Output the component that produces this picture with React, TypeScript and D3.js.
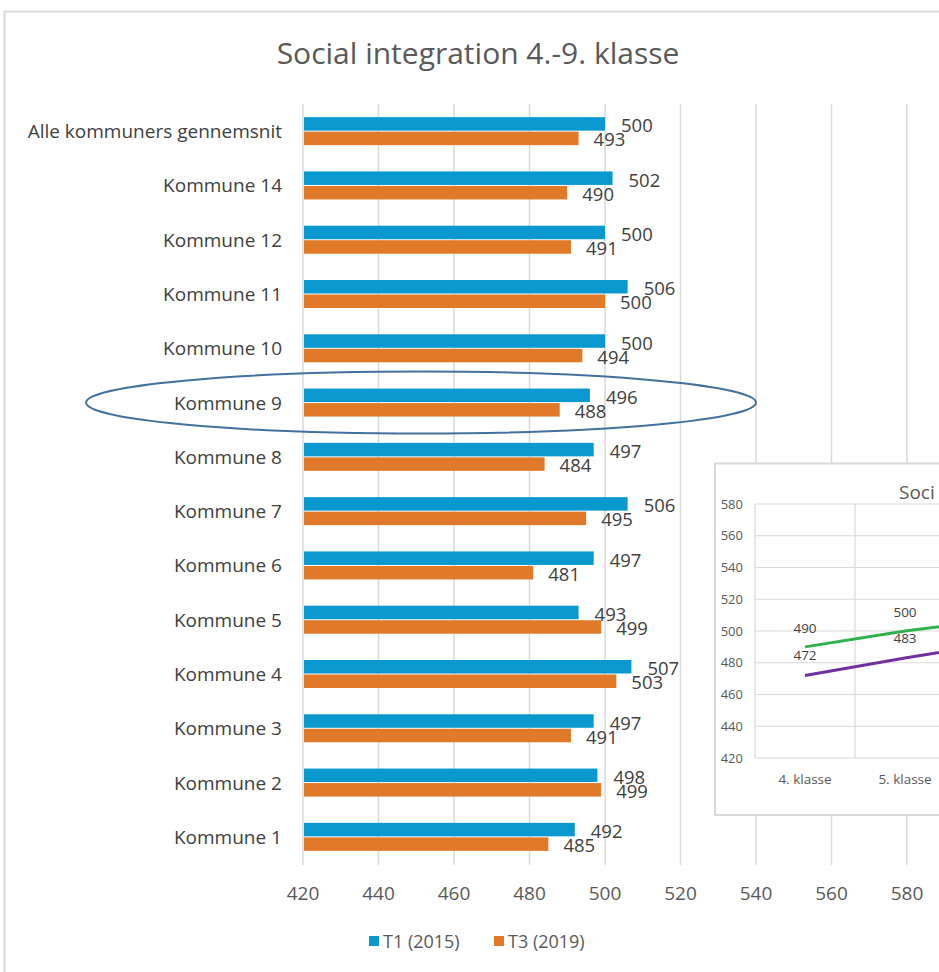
import React from "react";
import * as d3 from "d3";

const categories = [
  "Alle kommuners gennemsnit",
  "Kommune 14",
  "Kommune 12",
  "Kommune 11",
  "Kommune 10",
  "Kommune 9",
  "Kommune 8",
  "Kommune 7",
  "Kommune 6",
  "Kommune 5",
  "Kommune 4",
  "Kommune 3",
  "Kommune 2",
  "Kommune 1",
];
const t1Values = [500, 502, 500, 506, 500, 496, 497, 506, 497, 493, 507, 497, 498, 492];
const t3Values = [493, 490, 491, 500, 494, 488, 484, 495, 481, 499, 503, 491, 499, 485];
const xTicks = [420, 440, 460, 480, 500, 520, 540, 560, 580];
const seriesNames = ["T1 (2015)", "T3 (2019)"];
const highlighted = "Kommune 9";

// inset line chart (cropped at the right edge in the reference)
const insetCategories = ["4. klasse", "5. klasse", "6. klasse"];
const insetGreen = [490, 500, 508];
const insetPurple = [472, 483, 493];
const insetGreenLabels = ["490", "500", ""];
const insetPurpleLabels = ["472", "483", ""];
const insetTicks = [420, 440, 460, 480, 500, 520, 540, 560, 580];

const BLUE = "#0a99cf";
const ORANGE = "#e07a29";
const GRID = "#d9d9d9";
const FONT = "'Open Sans', sans-serif";

export default function App() {
  const x = d3.scaleLinear().domain([420, 580]).range([303, 907]);
  const y = d3.scaleBand().domain(categories).range([104, 864]).paddingInner(0);
  const barH = 13.5;

  // inset scales
  const ix = d3.scaleBand().domain(insetCategories).range([755, 1055]);
  const iy = d3.scaleLinear().domain([420, 580]).range([758, 504]);
  const line = d3
    .line<number>()
    .x((_, i) => (ix(insetCategories[i]) as number) + ix.bandwidth() / 2)
    .y((d) => iy(d));

  const hl = (y(highlighted) as number) + y.bandwidth() / 2;

  return (
    <svg
      width={939}
      height={972}
      style={{ position: "absolute", left: 0, top: 0, background: "#fff" }}
      fontFamily={FONT}
    >
      <rect x={0} y={0} width={939} height={972} fill="#fff" />
      {/* outer frame */}
      <path d="M4.5,972 L4.5,11.5 L939,11.5" fill="none" stroke={GRID} strokeWidth={2} />
      {/* title */}
      <text x={478} y={64} textAnchor="middle" fontSize={30} fill="#595959">
        Social integration 4.-9. klasse
      </text>
      {/* gridlines */}
      {xTicks.map((t) => (
        <line key={t} x1={x(t)} x2={x(t)} y1={104} y2={865} stroke={GRID} strokeWidth={1.5} />
      ))}
      {/* x tick labels */}
      {xTicks.map((t) => (
        <text key={t} x={x(t)} y={900} textAnchor="middle" fontSize={19} fill="#595959">
          {t}
        </text>
      ))}
      {/* bars */}
      {categories.map((c, i) => {
        const cy = (y(c) as number) + y.bandwidth() / 2;
        const b1 = cy - barH - 0.5;
        const b3 = cy + 0.5;
        return (
          <g key={c}>
            <text x={282} y={cy + 7} textAnchor="end" fontSize={19} fill="#404040">
              {c}
            </text>
            <rect x={x(420) + 1} y={b1} width={x(t1Values[i]) - x(420) - 1} height={barH} fill={BLUE} />
            <rect x={x(420) + 1} y={b3} width={x(t3Values[i]) - x(420) - 1} height={barH} fill={ORANGE} />
            <text x={x(t1Values[i]) + 16} y={b1 + barH / 2 + 8.5} fontSize={18.5} fill="#404040">
              {t1Values[i]}
            </text>
            <text x={x(t3Values[i]) + 15} y={b3 + barH / 2 + 8} fontSize={18.5} fill="#404040">
              {t3Values[i]}
            </text>
          </g>
        );
      })}
      {/* legend */}
      <rect x={369} y={936} width={10} height={10} fill={BLUE} />
      <text x={383} y={948} fontSize={18} fill="#595959">
        {seriesNames[0]}
      </text>
      <rect x={494} y={936} width={10} height={10} fill={ORANGE} />
      <text x={508} y={948} fontSize={18} fill="#595959">
        {seriesNames[1]}
      </text>
      {/* highlight ellipse */}
      <ellipse cx={421} cy={hl} rx={335} ry={31} fill="none" stroke="#41719c" strokeWidth={2} />

      {/* inset chart */}
      <g>
        <rect x={715} y={463.5} width={240} height={351.5} fill="#fff" stroke={GRID} strokeWidth={2} />
        {insetTicks.map((t) => (
          <line key={t} x1={755} x2={939} y1={iy(t)} y2={iy(t)} stroke={GRID} strokeWidth={1.2} />
        ))}
        {insetCategories.map((c) => (
          <line
            key={c}
            x1={ix(c) as number}
            x2={ix(c) as number}
            y1={504}
            y2={758}
            stroke={GRID}
            strokeWidth={1.2}
          />
        ))}
        {insetTicks.map((t) => (
          <text key={t} x={743} y={iy(t) + 4.5} textAnchor="end" fontSize={13} fill="#595959">
            {t}
          </text>
        ))}
        {insetCategories.slice(0, 2).map((c) => (
          <text
            key={c}
            x={(ix(c) as number) + ix.bandwidth() / 2}
            y={784}
            textAnchor="middle"
            fontSize={13.5}
            fill="#595959"
          >
            {c}
          </text>
        ))}
        <text x={899} y={499} fontSize={19} fill="#595959">
          Soci
        </text>
        <path d={line(insetGreen) || ""} fill="none" stroke="#2db34a" strokeWidth={3} />
        <path d={line(insetPurple) || ""} fill="none" stroke="#7030a0" strokeWidth={3} />
        {insetGreen.map((v, i) => (
          <text
            key={"g" + i}
            x={(ix(insetCategories[i]) as number) + ix.bandwidth() / 2}
            y={iy(v) - 14}
            textAnchor="middle"
            fontSize={13.5}
            fill="#404040"
          >
            {insetGreenLabels[i]}
          </text>
        ))}
        {insetPurple.map((v, i) => (
          <text
            key={"p" + i}
            x={(ix(insetCategories[i]) as number) + ix.bandwidth() / 2}
            y={iy(v) - 15}
            textAnchor="middle"
            fontSize={13.5}
            fill="#404040"
          >
            {insetPurpleLabels[i]}
          </text>
        ))}
      </g>
    </svg>
  );
}
